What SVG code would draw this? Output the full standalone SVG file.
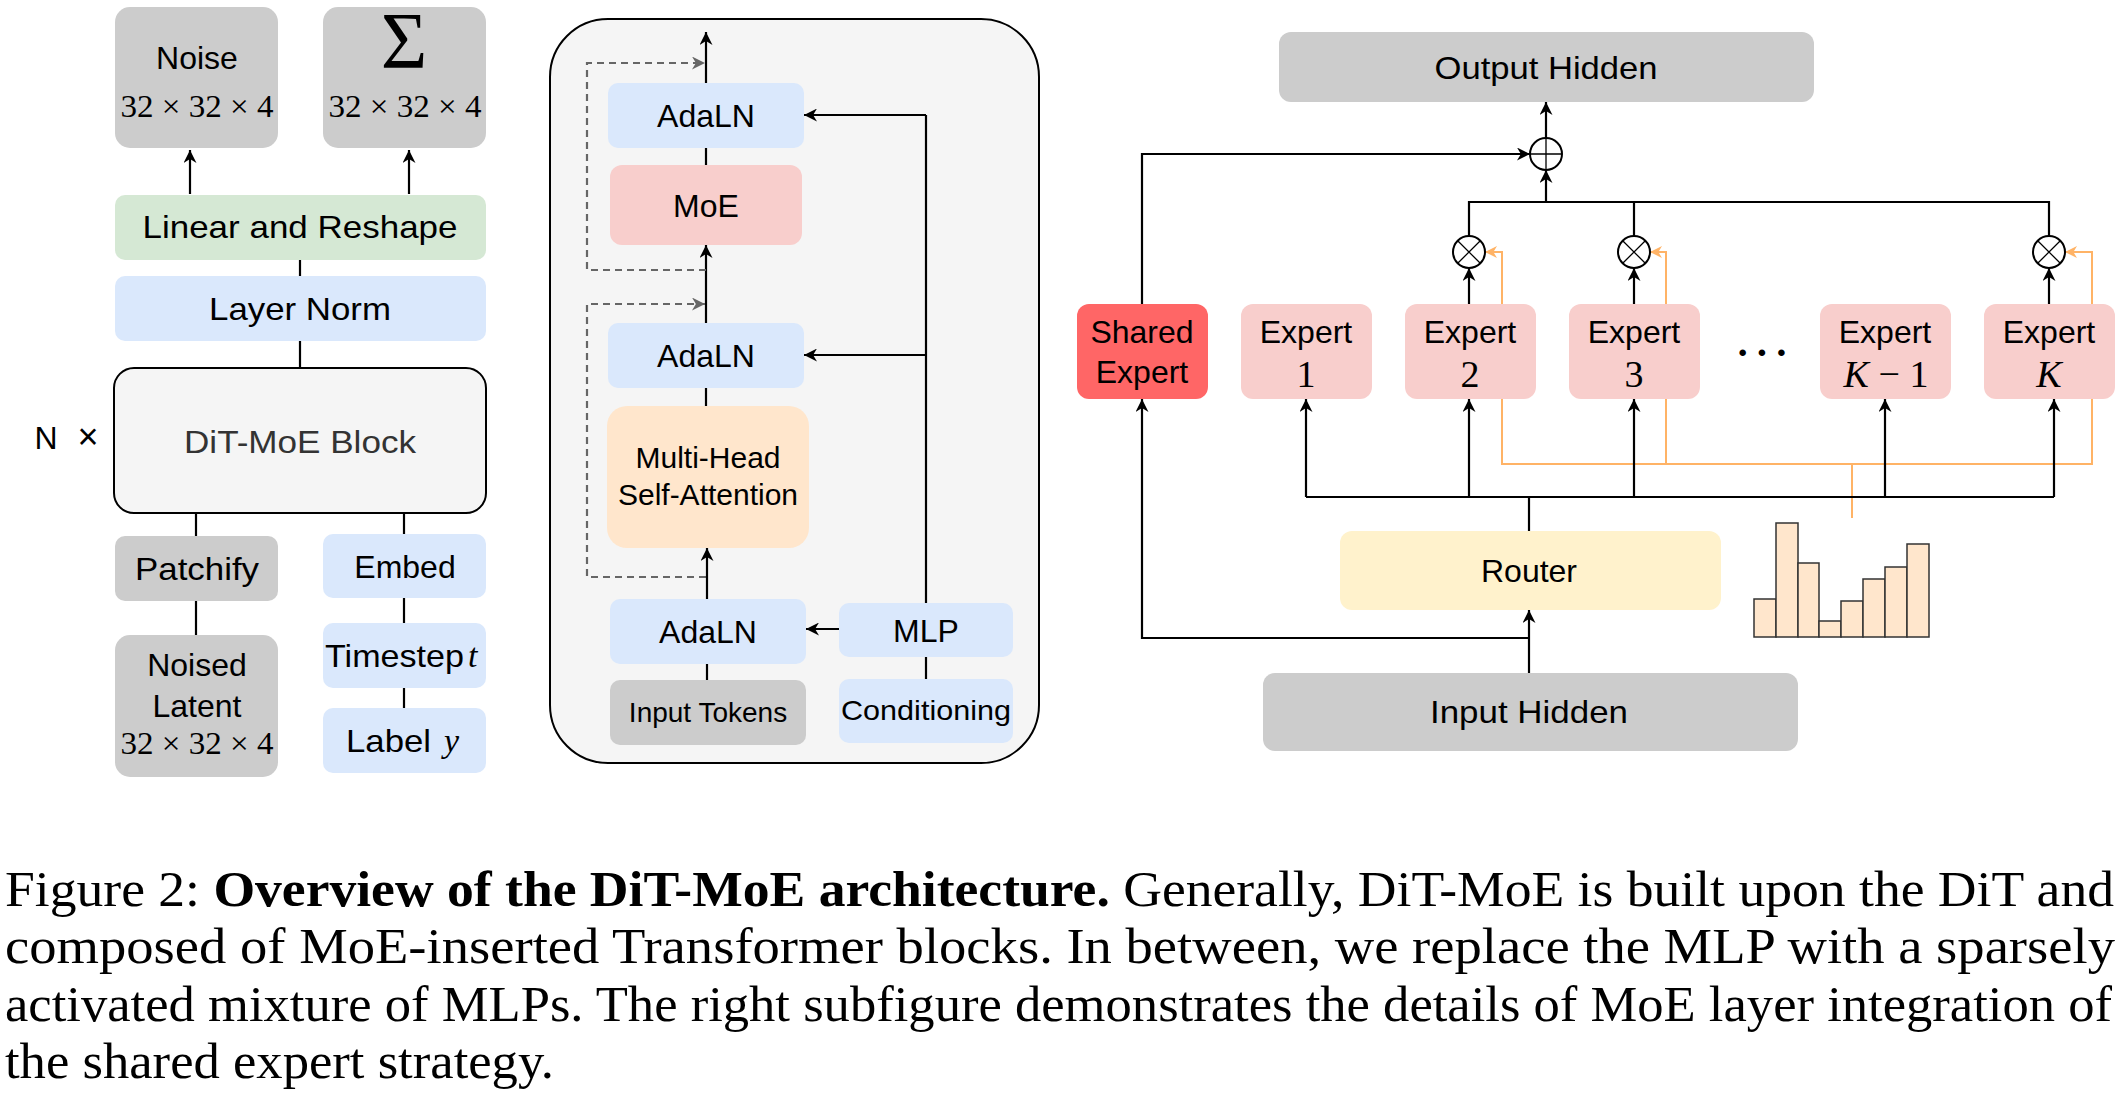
<svg xmlns="http://www.w3.org/2000/svg" width="2124" height="1100" viewBox="0 0 2124 1100">
<style>
.lbl{font-family:"Liberation Sans",Arial,sans-serif;font-size:32px;fill:#000;text-anchor:middle}
.sm{font-size:28px}
.math{font-family:"Liberation Serif","Times New Roman",serif;font-size:31px;fill:#000;text-anchor:middle}
.it{font-family:"Liberation Serif","Times New Roman",serif;font-style:italic}
.gray{fill:#cccccc}
.blue{fill:#dae8fc}
.green{fill:#d5e8d4}
.pink{fill:#f8cecc}
.orange{fill:#ffe6cc}
.yellow{fill:#fff2cc}
.red{fill:#ff6666}
.ln{fill:none;stroke:#000;stroke-width:2.2}
.arr{fill:none;stroke:#000;stroke-width:2.2;marker-end:url(#ah)}
.dash{fill:none;stroke:#666;stroke-width:2.2;stroke-dasharray:7 5;marker-end:url(#ag)}
.or{fill:none;stroke:#ffb366;stroke-width:2}
.ora{fill:none;stroke:#ffb366;stroke-width:2;marker-end:url(#ao)}
.cap{font-family:"Liberation Serif","Times New Roman",serif;font-size:50px;fill:#000}
.bar{fill:#ffe6cc;stroke:#333;stroke-width:1.5}
</style>
<defs>
<marker id="ah" viewBox="0 0 10 10" refX="10" refY="5" markerWidth="14" markerHeight="13" markerUnits="userSpaceOnUse" orient="auto"><path d="M0,0 L10,5 L0,10 L3,5 z" fill="#000"/></marker>
<marker id="ag" viewBox="0 0 10 10" refX="10" refY="5" markerWidth="14" markerHeight="13" markerUnits="userSpaceOnUse" orient="auto"><path d="M0,0 L10,5 L0,10 L3,5 z" fill="#666"/></marker>
<marker id="ao" viewBox="0 0 10 10" refX="10" refY="5" markerWidth="12" markerHeight="12" markerUnits="userSpaceOnUse" orient="auto"><path d="M0,0 L10,5 L0,10 L3,5 z" fill="#ffb366"/></marker>
</defs>

<!-- middle panel container (drawn first, behind connectors) -->
<g id="container">
  <rect x="550" y="19" width="489" height="744" rx="58" fill="#f5f5f5" stroke="#000" stroke-width="2"/>
</g>

<!-- connectors -->
<g id="connectors">
  <!-- left panel -->
  <path class="arr" d="M190 194 V150"/>
  <path class="arr" d="M409 194 V150"/>
  <path class="ln" d="M300 260 V276"/>
  <path class="ln" d="M300 341 V368"/>
  <path class="ln" d="M196 513 V536"/>
  <path class="ln" d="M404 513 V534"/>
  <path class="ln" d="M196 601 V635"/>
  <path class="ln" d="M404 598 V623"/>
  <path class="ln" d="M404 688 V708"/>
  <!-- middle panel -->
  <path class="arr" d="M706 83 V32"/>
  <path class="ln" d="M706 148 V165"/>
  <path class="arr" d="M706 323 V245"/>
  <path class="dash" d="M706 270 H587 V63 H705"/>
  <path class="dash" d="M706 577 H587 V304 H705"/>
  <path class="ln" d="M706 388 V406"/>
  <path class="arr" d="M707 599 V548"/>
  <path class="ln" d="M707 664 V680"/>
  <path class="arr" d="M839 629 H806"/>
  <path class="ln" d="M926 657 V679"/>
  <path class="ln" d="M926 603 V115"/>
  <path class="arr" d="M926 115 H804"/>
  <path class="arr" d="M926 355 H804"/>
  <!-- right panel -->
  <path class="arr" d="M1546 138 V102"/>
  <path class="arr" d="M1142 304 V154 H1530"/>
  <path class="arr" d="M1546 202 V170"/>
  <path class="ln" d="M1469 236 V202 H2049 V236"/>
  <path class="ln" d="M1634 202 V236"/>
  <path class="arr" d="M1469 304 V268"/>
  <path class="arr" d="M1634 304 V268"/>
  <path class="arr" d="M2049 304 V268"/>
  <path class="ora" d="M1502 304 V252 H1485"/>
  <path class="ora" d="M1666 304 V252 H1650"/>
  <path class="ora" d="M2092 304 V252 H2065"/>
  <path class="or" d="M1502 399 V464 H2092 V399"/>
  <path class="or" d="M1666 399 V464"/>
  <path class="or" d="M1852 464 V518"/>
  <path class="ln" d="M1529 531 V497"/>
  <path class="ln" d="M1306 497 H2054"/>
  <path class="arr" d="M1306 497 V399"/>
  <path class="arr" d="M1469 497 V399"/>
  <path class="arr" d="M1634 497 V399"/>
  <path class="arr" d="M1885 497 V399"/>
  <path class="arr" d="M2054 497 V399"/>
  <path class="arr" d="M1529 673 V610"/>
  <path class="arr" d="M1529 638 H1142 V399"/>
</g>

<!-- left panel nodes -->
<g id="noise">
  <rect class="gray" x="115" y="7" width="163" height="141" rx="15"/>
  <text class="lbl" x="197" y="69">Noise</text>
  <text class="math" x="197" y="117" textLength="153" lengthAdjust="spacingAndGlyphs">32 × 32 × 4</text>
</g>
<g id="sigma">
  <rect class="gray" x="323" y="7" width="163" height="141" rx="15"/>
  <text class="math" x="404" y="68" style="font-size:80px">Σ</text>
  <text class="math" x="405" y="117" textLength="153" lengthAdjust="spacingAndGlyphs">32 × 32 × 4</text>
</g>
<g id="linear-reshape">
  <rect class="green" x="115" y="195" width="371" height="65" rx="10"/>
  <text class="lbl" x="300" y="238" textLength="315" lengthAdjust="spacingAndGlyphs">Linear and Reshape</text>
</g>
<g id="layer-norm">
  <rect class="blue" x="115" y="276" width="371" height="65" rx="10"/>
  <text class="lbl" x="300" y="320" textLength="182" lengthAdjust="spacingAndGlyphs">Layer Norm</text>
</g>
<g id="dit-moe-block">
  <rect x="114" y="368" width="372" height="145" rx="20" fill="#f5f5f5" stroke="#000" stroke-width="2"/>
  <text class="lbl" x="300" y="453" style="fill:#333" textLength="232" lengthAdjust="spacingAndGlyphs">DiT-MoE Block</text>
</g>
<g id="n-times">
  <text class="lbl" x="46" y="449">N</text>
  <text class="lbl" x="88" y="449" style="font-size:36px">×</text>
</g>
<g id="patchify">
  <rect class="gray" x="115" y="536" width="163" height="65" rx="10"/>
  <text class="lbl" x="197" y="580" textLength="124" lengthAdjust="spacingAndGlyphs">Patchify</text>
</g>
<g id="noised-latent">
  <rect class="gray" x="115" y="635" width="163" height="142" rx="15"/>
  <text class="lbl" x="197" y="676">Noised</text>
  <text class="lbl" x="197" y="717">Latent</text>
  <text class="math" x="197" y="754" textLength="153" lengthAdjust="spacingAndGlyphs">32 × 32 × 4</text>
</g>
<g id="embed">
  <rect class="blue" x="323" y="534" width="163" height="64" rx="10"/>
  <text class="lbl" x="405" y="578">Embed</text>
</g>
<g id="timestep">
  <rect class="blue" x="323" y="623" width="163" height="65" rx="10"/>
  <text class="lbl" x="325" y="667" style="text-anchor:start" textLength="139" lengthAdjust="spacingAndGlyphs">Timestep</text>
  <text class="it" x="468" y="667" font-size="34">t</text>
</g>
<g id="label">
  <rect class="blue" x="323" y="708" width="163" height="65" rx="10"/>
  <text class="lbl" x="346" y="752" style="text-anchor:start" textLength="85" lengthAdjust="spacingAndGlyphs">Label</text>
  <text class="it" x="444" y="752" font-size="34">y</text>
</g>

<!-- middle panel nodes -->
<g id="adaln-top">
  <rect class="blue" x="608" y="83" width="196" height="65" rx="10"/>
  <text class="lbl" x="706" y="127">AdaLN</text>
</g>
<g id="moe">
  <rect class="pink" x="610" y="165" width="192" height="80" rx="12"/>
  <text class="lbl" x="706" y="217">MoE</text>
</g>
<g id="adaln-mid">
  <rect class="blue" x="608" y="323" width="196" height="65" rx="10"/>
  <text class="lbl" x="706" y="367">AdaLN</text>
</g>
<g id="mhsa">
  <rect class="orange" x="607" y="406" width="202" height="142" rx="20"/>
  <text class="lbl" x="708" y="468" style="font-size:30px">Multi-Head</text>
  <text class="lbl" x="708" y="505" style="font-size:30px">Self-Attention</text>
</g>
<g id="adaln-bottom">
  <rect class="blue" x="610" y="599" width="196" height="65" rx="10"/>
  <text class="lbl" x="708" y="643">AdaLN</text>
</g>
<g id="input-tokens">
  <rect class="gray" x="610" y="680" width="196" height="65" rx="10"/>
  <text class="lbl sm" x="708" y="722">Input Tokens</text>
</g>
<g id="mlp">
  <rect class="blue" x="839" y="603" width="174" height="54" rx="10"/>
  <text class="lbl" x="926" y="642">MLP</text>
</g>
<g id="conditioning">
  <rect class="blue" x="839" y="679" width="174" height="64" rx="10"/>
  <text class="lbl sm" x="926" y="720" textLength="170" lengthAdjust="spacingAndGlyphs">Conditioning</text>
</g>

<!-- right panel nodes -->
<g id="output-hidden">
  <rect class="gray" x="1279" y="32" width="535" height="70" rx="12"/>
  <text class="lbl" x="1546" y="79" textLength="223" lengthAdjust="spacingAndGlyphs">Output Hidden</text>
</g>
<g id="plus">
  <circle cx="1546" cy="154" r="16" fill="#fff" stroke="#000" stroke-width="2"/>
  <path d="M1530 154 H1562 M1546 138 V170" stroke="#000" stroke-width="1.3"/>
</g>
<g id="mult-2">
  <circle cx="1469" cy="252" r="16" fill="#fff" stroke="#000" stroke-width="2"/>
  <path d="M1457.7 240.7 L1480.3 263.3 M1480.3 240.7 L1457.7 263.3" stroke="#000" stroke-width="1.3"/>
</g>
<g id="mult-3">
  <circle cx="1634" cy="252" r="16" fill="#fff" stroke="#000" stroke-width="2"/>
  <path d="M1622.7 240.7 L1645.3 263.3 M1645.3 240.7 L1622.7 263.3" stroke="#000" stroke-width="1.3"/>
</g>
<g id="mult-k">
  <circle cx="2049" cy="252" r="16" fill="#fff" stroke="#000" stroke-width="2"/>
  <path d="M2037.7 240.7 L2060.3 263.3 M2060.3 240.7 L2037.7 263.3" stroke="#000" stroke-width="1.3"/>
</g>
<g id="shared-expert">
  <rect class="red" x="1077" y="304" width="131" height="95" rx="12"/>
  <text class="lbl" x="1142" y="343">Shared</text>
  <text class="lbl" x="1142" y="383">Expert</text>
</g>
<g id="expert-1">
  <rect class="pink" x="1241" y="304" width="131" height="95" rx="12"/>
  <text class="lbl" x="1306" y="343">Expert</text>
  <text class="math" x="1306" y="387" style="font-size:38px">1</text>
</g>
<g id="expert-2">
  <rect class="pink" x="1405" y="304" width="131" height="95" rx="12"/>
  <text class="lbl" x="1470" y="343">Expert</text>
  <text class="math" x="1470" y="387" style="font-size:38px">2</text>
</g>
<g id="expert-3">
  <rect class="pink" x="1569" y="304" width="131" height="95" rx="12"/>
  <text class="lbl" x="1634" y="343">Expert</text>
  <text class="math" x="1634" y="387" style="font-size:38px">3</text>
</g>
<g id="dots">
  <text class="math" x="1765" y="366" style="font-size:40px;font-weight:bold" letter-spacing="6">···</text>
</g>
<g id="expert-k-1">
  <rect class="pink" x="1820" y="304" width="131" height="95" rx="12"/>
  <text class="lbl" x="1885" y="343">Expert</text>
  <text class="math" x="1886" y="387" style="font-size:38px"><tspan class="it">K</tspan> − 1</text>
</g>
<g id="expert-k">
  <rect class="pink" x="1984" y="304" width="131" height="95" rx="12"/>
  <text class="lbl" x="2049" y="343">Expert</text>
  <text class="math it" x="2049" y="387" style="font-size:38px">K</text>
</g>
<g id="router">
  <rect class="yellow" x="1340" y="531" width="381" height="79" rx="12"/>
  <text class="lbl" x="1529" y="582">Router</text>
</g>
<g id="histogram">
  <rect class="bar" x="1754" y="599" width="22" height="38"/>
  <rect class="bar" x="1776" y="523" width="22" height="114"/>
  <rect class="bar" x="1798" y="563" width="21" height="74"/>
  <rect class="bar" x="1819" y="621" width="22" height="16"/>
  <rect class="bar" x="1841" y="601" width="22" height="36"/>
  <rect class="bar" x="1863" y="579" width="22" height="58"/>
  <rect class="bar" x="1885" y="567" width="22" height="70"/>
  <rect class="bar" x="1907" y="544" width="22" height="93"/>
</g>
<g id="input-hidden">
  <rect class="gray" x="1263" y="673" width="535" height="78" rx="12"/>
  <text class="lbl" x="1529" y="723" textLength="198" lengthAdjust="spacingAndGlyphs">Input Hidden</text>
</g>

<!-- caption -->
<g id="caption">
  <text class="cap" x="5" y="906" textLength="2109" lengthAdjust="spacingAndGlyphs">Figure 2: <tspan font-weight="bold">Overview of the DiT-MoE architecture.</tspan> Generally, DiT-MoE is built upon the DiT and</text>
  <text class="cap" x="5" y="963" textLength="2110" lengthAdjust="spacingAndGlyphs">composed of MoE-inserted Transformer blocks. In between, we replace the MLP with a sparsely</text>
  <text class="cap" x="5" y="1021" textLength="2107" lengthAdjust="spacingAndGlyphs">activated mixture of MLPs. The right subfigure demonstrates the details of MoE layer integration of</text>
  <text class="cap" x="5" y="1078" textLength="549" lengthAdjust="spacingAndGlyphs">the shared expert strategy.</text>
</g>
</svg>
